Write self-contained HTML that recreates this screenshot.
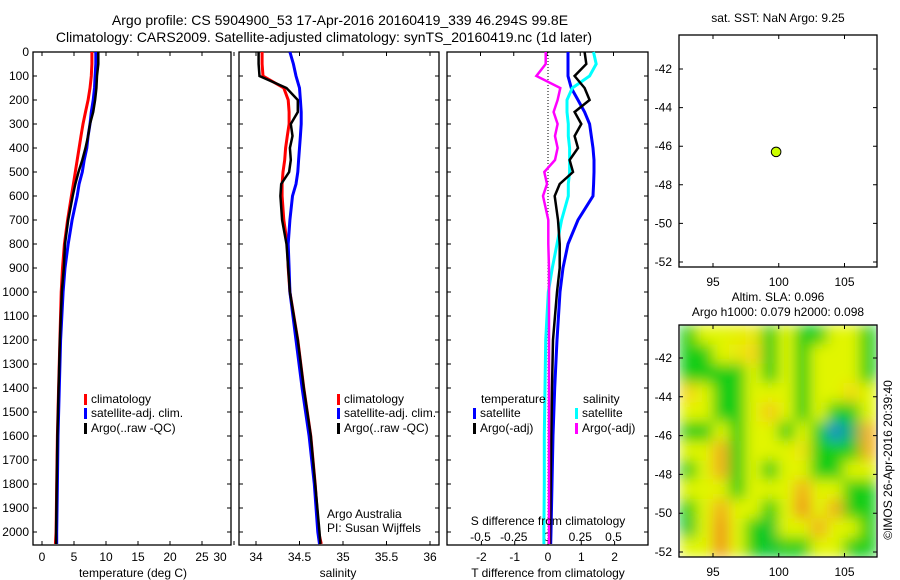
<!DOCTYPE html>
<html><head><meta charset="utf-8"><style>
html,body{margin:0;padding:0;background:#fff;}
svg{display:block;font-family:"Liberation Sans",sans-serif;}
</style></head><body>
<svg id="fig" width="900" height="580" viewBox="0 0 900 580" xmlns="http://www.w3.org/2000/svg">
<defs>
<filter id="blur" filterUnits="userSpaceOnUse" x="680" y="325" width="196" height="232"><feGaussianBlur stdDeviation="7" edgeMode="duplicate"/></filter>
<clipPath id="mapclip"><rect x="680" y="325" width="196" height="232"/></clipPath>
</defs>
<text x="340" y="25" font-size="14" text-anchor="middle">Argo profile: CS 5904900_53 17-Apr-2016 20160419_339 46.294S 99.8E</text>
<text x="324" y="42" font-size="14" text-anchor="middle">Climatology: CARS2009. Satellite-adjusted climatology: synTS_20160419.nc (1d later)</text>
<g id="g1"></g>
<g id="g2"></g>
<g id="g3"></g>
<g id="g4"></g>
<g id="g5"></g>
<text transform="translate(892,460) rotate(-90)" font-size="12" text-anchor="middle">©IMOS 26-Apr-2016 20:39:40</text>
</svg>
<script>
// ---- data ----
const depths = [0,50,100,150,200,250,300,350,400,450,500,550,600,700,800,900,1000,1200,1400,1600,1800,2000,2050];
const tempClim = [7.8,7.8,7.7,7.5,7.2,6.8,6.4,6.1,5.8,5.5,5.2,4.9,4.6,4.0,3.5,3.2,3.0,2.8,2.6,2.4,2.3,2.2,2.1];
const tempSat  = [8.4,8.4,8.3,8.2,8.0,7.7,7.5,7.2,7.0,6.6,6.3,5.8,5.5,4.7,4.1,3.6,3.3,2.9,2.7,2.5,2.4,2.3,2.3];
const tempArgo = [8.8,8.8,8.6,8.5,8.3,8.0,7.5,7.2,6.8,6.3,5.7,5.2,4.8,4.1,3.6,3.4,3.1,2.8,2.6,2.4,2.3,2.2,2.2];
const salClim = [34.07,34.07,34.08,34.32,34.37,34.38,34.38,34.36,34.34,34.33,34.31,34.30,34.30,34.32,34.36,34.37,34.39,34.48,34.55,34.63,34.68,34.72,34.75];
const salSat  = [34.39,34.43,34.46,34.50,34.51,34.52,34.52,34.51,34.50,34.49,34.48,34.46,34.42,34.39,34.37,34.38,34.39,34.46,34.53,34.61,34.67,34.71,34.73];
const salArgo = [34.03,34.03,34.04,34.35,34.48,34.48,34.40,34.42,34.39,34.40,34.38,34.29,34.28,34.30,34.35,34.37,34.39,34.48,34.55,34.63,34.68,34.73,34.74];
const dTsat  = [0.6,0.6,0.6,0.7,0.9,1.1,1.25,1.3,1.35,1.38,1.38,1.37,1.35,0.9,0.6,0.45,0.36,0.27,0.2,0.15,0.12,0.09,0.08];
const dTargo = [1.1,1.15,0.8,1.1,1.25,0.8,1.0,0.8,0.9,0.65,0.75,0.35,0.2,0.3,0.35,0.35,0.27,0.15,0.12,0.1,0.08,0.06,0.06];
const dSsat  = [0.35,0.37,0.32,0.19,0.15,0.15,0.16,0.16,0.17,0.17,0.17,0.16,0.16,0.11,0.075,0.04,0.01,-0.01,-0.015,-0.02,-0.02,-0.023,-0.023];
const dSargo = [-0.01,-0.01,-0.08,0.10,0.08,0.05,0.08,0.06,0.08,0.06,-0.02,0.0,-0.03,0.01,0.01,0.015,0.015,0.015,0.015,0.015,0.015,0.015,0.015];
const depthTicks = [0,100,200,300,400,500,600,700,800,900,1000,1100,1200,1300,1400,1500,1600,1700,1800,1900,2000];
const tempTicks = [0,5,10,15,20,25,30];
const salTicks = [34,34.5,35,35.5,36];
const dTTicks = [-2,-1,0,1,2];
const dSTicks = [-0.5,-0.25,0,0.25,0.5];
const lonTicks = [95,100,105];
const latTicks = [-42,-44,-46,-48,-50,-52];
const argoLon = [99.8];
const argoLat = [-46.294];
// SLA grid (rows north->south, cols west->east); 0 blue ... 1 green ... 2 yellow ... 3 orange
const slaGrid = [
[1,2,2,2.1,2.2,1,2,1,1,2,2,1],
[1,1,2,2.2,2.5,1,2,1,2,2,2,1],
[1,1,1,1,2,1,2,1,2,2,2,1],
[2.5,2,1,1,2,2,2,1,2,2,2.4,2],
[2,2,1,1,2,2.6,2,1,2,1,1,2],
[1,1,2,1,2,2,1,2,1,-0.3,0.3,2.8],
[2,2,2.8,1,2,2,2,2.3,1,1,1,2.8],
[1,2,2.8,1,2,1,2,2,1,1,2,2],
[2,2,2,1,2,2,2,2.8,2,2,1,1],
[1,2,2.8,2,2,1,2,3,2,2.8,1,1],
[0.8,2,3,2,1,0.8,2,2,2.8,2,2,1],
[2,2,3,2,1,0.8,1,1,2,2,1,1]
];

const NS="http://www.w3.org/2000/svg";
function el(parent,tag,attrs,text){const e=document.createElementNS(NS,tag);for(const k in attrs)e.setAttribute(k,attrs[k]);if(text!==undefined)e.textContent=text;parent.appendChild(e);return e;}

const yTop=52, pxPerM=0.24, yBot=545;
const yD = d => yTop + d*pxPerM;

function profilePanel(g,x0,x1,xs,opts){
  const f=el(g,'rect',{x:x0,y:yTop,width:x1-x0,height:yBot-yTop,fill:'none',stroke:'#000','stroke-width':1.3});
  
  
  depthTicks.forEach(d=>{
    const y=yD(d);
    const t=el(g,'path',{d:`M${x0} ${y}h4M${x1} ${y}h-4`,stroke:'#000','stroke-width':1});
    
    
    if(opts.labels){
      const l=el(g,'text',{x:x0-4,y:y+4,'font-size':12,'text-anchor':'end'},String(d));
      
      
    }
  });
}
function series(g,xs,vals,color,w,name){
  const pts=vals.map((v,i)=>xs(v).toFixed(1)+','+yD(depths[i]).toFixed(1)).join(' ');
  const p=el(g,'polyline',{points:pts,fill:'none',stroke:color,'stroke-width':w,'stroke-linejoin':'miter'});
  
  
}
function legendEntry(g,x,y,color,text){
  const r=el(g,'rect',{x:x,y:y-9,width:3,height:11,fill:color});
  
  
  const t=el(g,'text',{x:x+7,y:y,'font-size':12},text);
  
  
}
function label(g,x,y,text,name,anchor){
  const t=el(g,'text',{x:x,y:y,'font-size':12,'text-anchor':anchor||'middle'},text);
  
  
}

// Panel 1: temperature
const g1=document.getElementById('g1');
const xT=v=>42+6.4*v;
profilePanel(g1,33,231,xT,{labels:true});
tempTicks.forEach(t=>{
  const x=xT(t);
  el(g1,'path',{d:`M${x} ${yTop}v4M${x} ${yBot}v-4`,stroke:'#000'});
  const lx = t===30?220:x;
  label(g1,lx,561,String(t),'temperature-tick-label');
});
series(g1,xT,tempClim,'#ff0000',3,'temperature-climatology-line');
series(g1,xT,tempSat,'#0000ff',3,'temperature-satellite-line');
series(g1,xT,tempArgo,'#000000',2.5,'temperature-argo-line');
legendEntry(g1,84,403,'#ff0000','climatology');
legendEntry(g1,84,417,'#0000ff','satellite-adj. clim.');
legendEntry(g1,84,432,'#000000','Argo(..raw -QC)');
label(g1,133,577,'temperature (deg C)','x-axis-title');

// Panel 2: salinity
const g2=document.getElementById('g2');
const xS=v=>256+87*(v-34);
profilePanel(g2,239,439,xS,{labels:false});
salTicks.forEach(t=>{
  const x=xS(t);
  el(g2,'path',{d:`M${x} ${yTop}v4M${x} ${yBot}v-4`,stroke:'#000'});
  label(g2,x,561,String(t),'salinity-tick-label');
});
series(g2,xS,salClim,'#ff0000',3,'salinity-climatology-line');
series(g2,xS,salSat,'#0000ff',3,'salinity-satellite-line');
series(g2,xS,salArgo,'#000000',2.5,'salinity-argo-line');
legendEntry(g2,337,403,'#ff0000','climatology');
legendEntry(g2,337,417,'#0000ff','satellite-adj. clim.');
legendEntry(g2,337,432,'#000000','Argo(..raw -QC)');
label(g2,327,518,'Argo Australia','institution-label','start');
label(g2,327,532,'PI: Susan Wijffels','pi-label','start');
label(g2,338,577,'salinity','x-axis-title');

// Panel 3: differences
const g3=document.getElementById('g3');
const xdT=v=>548+33.3*v;
const xdS=v=>547+133*v;
profilePanel(g3,447,648,xdT,{labels:false});
dTTicks.forEach(t=>{
  const x=xdT(t);
  el(g3,'path',{d:`M${x} ${yBot}v-4`,stroke:'#000'});
  label(g3,x,561,String(t),'t-diff-tick-label');
});
dSTicks.forEach(t=>{
  const x=xdS(t);
  el(g3,'path',{d:`M${x} ${yTop}v4`,stroke:'#000'});
  label(g3,x,541,String(t),'s-diff-tick-label');
});
const zl=el(g3,'line',{x1:xdT(0),y1:yTop,x2:xdT(0),y2:yBot,stroke:'#000','stroke-width':1,'stroke-dasharray':'1,2'});


series(g3,xdT,dTsat,'#0000ff',3,'t-diff-satellite-line');
series(g3,xdS,dSsat,'#00ffff',3,'s-diff-satellite-line');
series(g3,xdT,dTargo,'#000000',2.5,'t-diff-argo-line');
series(g3,xdS,dSargo,'#ff00ff',2.5,'s-diff-argo-line');
label(g3,481,403,'temperature','legend-title-temperature','start');
label(g3,583,403,'salinity','legend-title-salinity','start');
legendEntry(g3,473,417,'#0000ff','satellite');
legendEntry(g3,473,432,'#000000','Argo(-adj)');
legendEntry(g3,575,417,'#00ffff','satellite');
legendEntry(g3,575,432,'#ff00ff','Argo(-adj)');
label(g3,548,525,'S difference from climatology','s-axis-title');
label(g3,548,577,'T difference from climatology','t-axis-title');

// Map panels
const lonX=v=>713+13.15*(v-95);
function mapAxes(g,y0,y1,latY,labY){
  el(g,'rect',{x:679,y:y0,width:198,height:y1-y0,fill:'none',stroke:'#000','stroke-width':1.3});
  lonTicks.forEach(t=>{
    const x=lonX(t);
    el(g,'path',{d:`M${x} ${y0}v4M${x} ${y1}v-4`,stroke:'#000'});
    label(g,x,labY,String(t),'lon-tick-label');
  });
  latTicks.forEach(t=>{
    const y=latY(t);
    el(g,'path',{d:`M679 ${y}h4M877 ${y}h-4`,stroke:'#000'});
    label(g,672,y+4,String(t),'lat-tick-label','end');
  });
}
const g4=document.getElementById('g4');
const latY1=v=>69+19.3*(-42-v);
label(g4,778,22,'sat. SST: NaN Argo: 9.25','sst-map-title');
mapAxes(g4,35,267,latY1,286);
argoLon.forEach((lo,i)=>{
  const c=el(g4,'circle',{cx:lonX(lo),cy:latY1(argoLat[i]),r:4.8,fill:'#ccff00',stroke:'#000','stroke-width':1});
  
  
});

const g5=document.getElementById('g5');
const latY2=v=>358+19.4*(-42-v);
label(g5,778,301,'Altim. SLA: 0.096','sla-title');
label(g5,778,316,'Argo h1000: 0.079 h2000: 0.098','steric-height-title');
function cmap(v){
  const stops=[[-0.5,[30,130,230]],[0.3,[10,180,110]],[1,[20,205,20]],[2,[225,245,0]],[2.5,[245,215,20]],[3,[240,150,30]]];
  if(v<=stops[0][0])return stops[0][1];
  for(let i=1;i<stops.length;i++){if(v<=stops[i][0]){const a=stops[i-1],b=stops[i];const t=(v-a[0])/(b[0]-a[0]);return a[1].map((c,k)=>Math.round(c+(b[1][k]-c)*t));}}
  return stops[stops.length-1][1];
}
const hm=el(g5,'g',{'clip-path':'url(#mapclip)'});


const inner=el(hm,'g',{filter:'url(#blur)'});
const nr=slaGrid.length,nc=slaGrid[0].length;
const cw=196/nc,ch=232/nr;
slaGrid.forEach((row,r)=>row.forEach((v,c)=>{
  const col=cmap(v);
  const cell=el(inner,'rect',{x:(680+c*cw).toFixed(2),y:(325+r*ch).toFixed(2),width:(cw+0.5).toFixed(2),height:(ch+0.5).toFixed(2),fill:`rgb(${col.join(',')})`});
  
  
}));
mapAxes(g5,325,557,latY2,576);
</script>
</body></html>
